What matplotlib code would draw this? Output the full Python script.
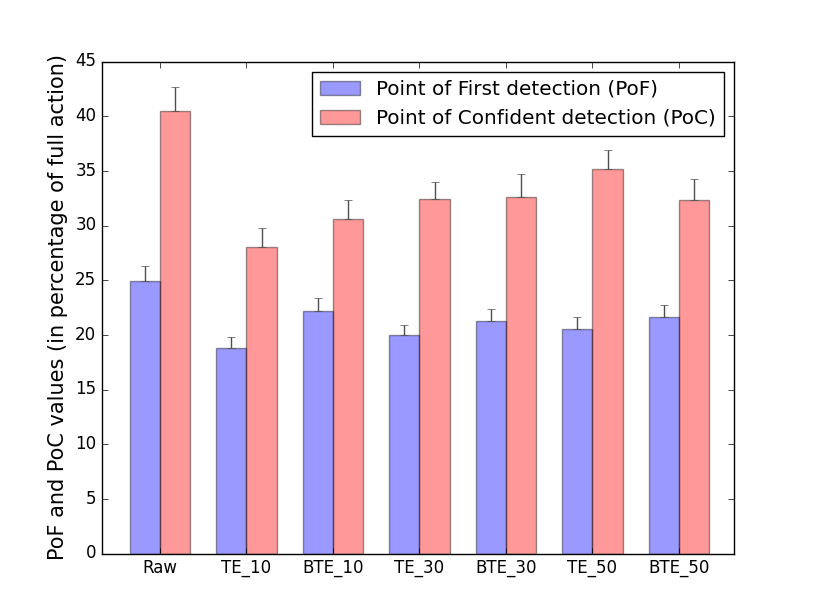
import numpy as np
import matplotlib
matplotlib.use('Agg')
import matplotlib.pyplot as plt
plt.style.use('classic')

labels = ['Raw', 'TE_10', 'BTE_10', 'TE_30', 'BTE_30', 'TE_50', 'BTE_50']
pof = [24.9, 18.8, 22.2, 20.0, 21.3, 20.5, 21.6]
pof_err = [1.4, 1.0, 1.2, 0.9, 1.1, 1.1, 1.1]
poc = [40.45, 28.05, 30.6, 32.4, 32.6, 35.15, 32.3]
poc_err = [2.2, 1.7, 1.7, 1.6, 2.1, 1.75, 1.95]

index = np.arange(len(labels))
width = 0.35
err_kw = {'ecolor': '0.3', 'capsize': 3}

fig, ax = plt.subplots(figsize=(8.15, 6.15), dpi=100)
ax.bar(index, pof, width, align='edge', color='b', alpha=0.4,
       yerr=[np.zeros(len(pof)), pof_err], error_kw=err_kw,
       label='Point of First detection (PoF)')
ax.bar(index + width, poc, width, align='edge', color='r', alpha=0.4,
       yerr=[np.zeros(len(poc)), poc_err], error_kw=err_kw,
       label='Point of Confident detection (PoC)')
ax.set_xticks(index + width)
ax.set_xticklabels(labels)
ax.set_xlim(-0.32, 6.98)
ax.set_ylim(0, 45)
ax.set_ylabel('PoF and PoC values (in percentage of full action)', fontsize=15)
ax.legend(loc='upper right', fontsize='large')
plt.savefig('out.png', dpi=100)
